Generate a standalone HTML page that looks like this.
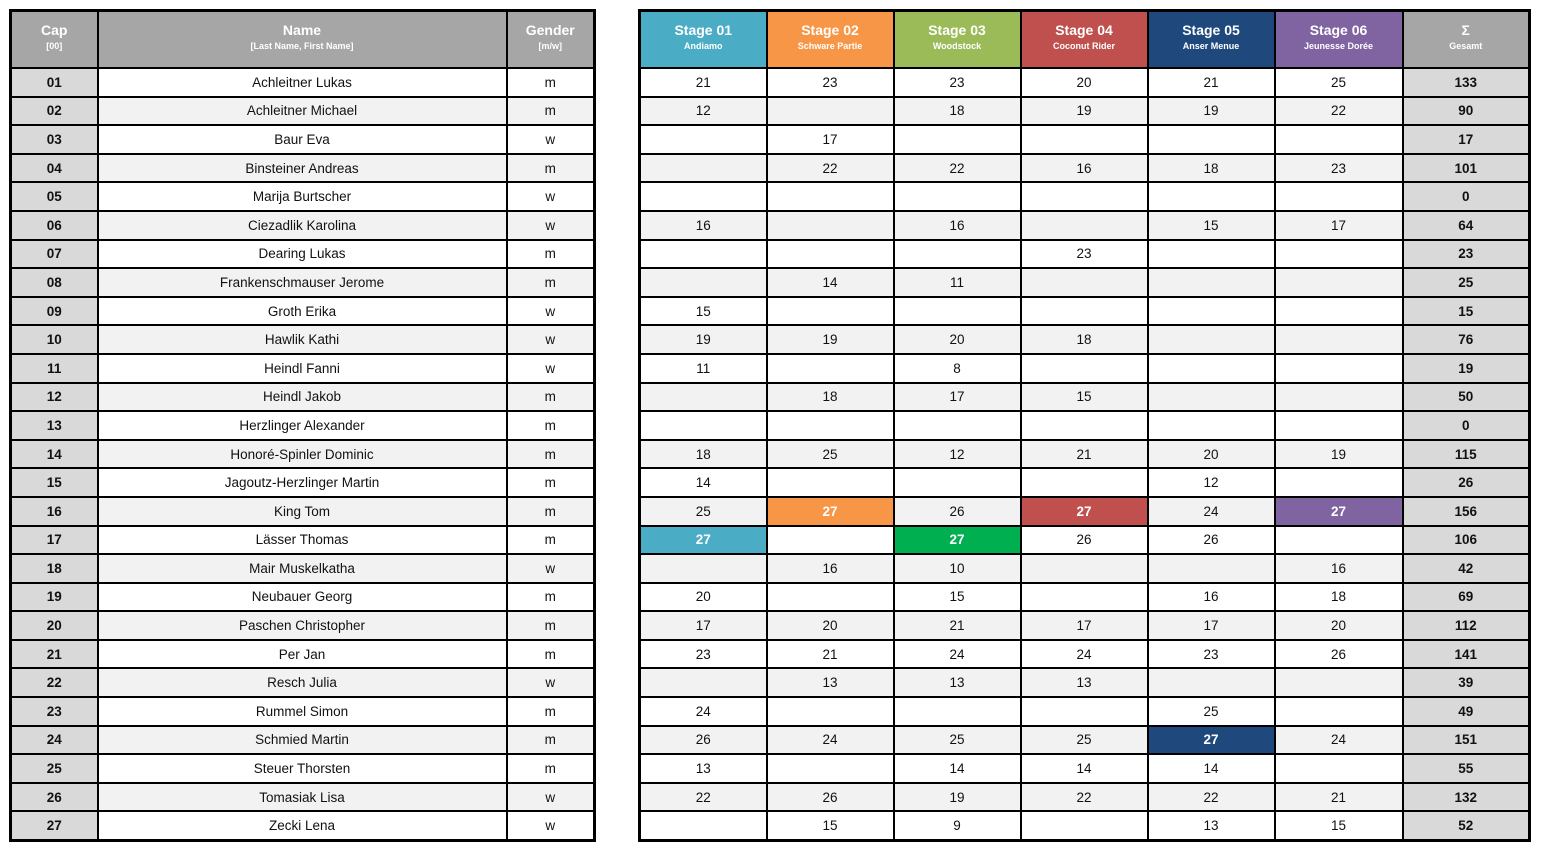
<!DOCTYPE html>
<html><head><meta charset="utf-8"><style>
body{margin:0;background:#fff;width:1541px;height:853px;overflow:hidden;font-family:"Liberation Sans",sans-serif;}
table{position:absolute;top:9px;border-collapse:collapse;border:3px solid #000;table-layout:fixed;}
td,th{border:2px solid #000;text-align:center;padding:0;font-size:13.5px;color:#111;}
th{background:#a6a6a6;color:#fff;font-weight:bold;font-size:14px;line-height:16px;height:49px;padding-bottom:6px;}
th small{display:block;font-size:9px;font-weight:bold;line-height:12px;margin-top:2px;}
td{height:26.6px;}
tbody tr:nth-child(even) td{background:#f2f2f2;}
tbody tr td.c{background:#d9d9d9 !important;font-weight:bold;}
td.o{background:#f79646 !important;color:#fff;font-weight:bold}
td.r{background:#c0504d !important;color:#fff;font-weight:bold}
td.p{background:#8064a2 !important;color:#fff;font-weight:bold}
td.b{background:#4bacc6 !important;color:#fff;font-weight:bold}
td.g{background:#00b050 !important;color:#fff;font-weight:bold}
td.n{background:#1f497d !important;color:#fff;font-weight:bold}
#L{left:9px;width:586px;}
#R{left:638px;width:893px;}
</style></head><body>
<table id="L"><colgroup><col style="width:87px"><col style="width:409px"><col style="width:88px"></colgroup>
<thead><tr><th>Cap<small>[00]</small></th><th>Name<small>[Last Name, First Name]</small></th><th>Gender<small>[m/w]</small></th></tr></thead>
<tbody>
<tr><td class="c">01</td><td>Achleitner Lukas</td><td>m</td></tr>
<tr><td class="c">02</td><td>Achleitner Michael</td><td>m</td></tr>
<tr><td class="c">03</td><td>Baur Eva</td><td>w</td></tr>
<tr><td class="c">04</td><td>Binsteiner Andreas</td><td>m</td></tr>
<tr><td class="c">05</td><td>Marija Burtscher</td><td>w</td></tr>
<tr><td class="c">06</td><td>Ciezadlik Karolina</td><td>w</td></tr>
<tr><td class="c">07</td><td>Dearing Lukas</td><td>m</td></tr>
<tr><td class="c">08</td><td>Frankenschmauser Jerome</td><td>m</td></tr>
<tr><td class="c">09</td><td>Groth Erika</td><td>w</td></tr>
<tr><td class="c">10</td><td>Hawlik Kathi</td><td>w</td></tr>
<tr><td class="c">11</td><td>Heindl Fanni</td><td>w</td></tr>
<tr><td class="c">12</td><td>Heindl Jakob</td><td>m</td></tr>
<tr><td class="c">13</td><td>Herzlinger Alexander</td><td>m</td></tr>
<tr><td class="c">14</td><td>Honoré-Spinler Dominic</td><td>m</td></tr>
<tr><td class="c">15</td><td>Jagoutz-Herzlinger Martin</td><td>m</td></tr>
<tr><td class="c">16</td><td>King Tom</td><td>m</td></tr>
<tr><td class="c">17</td><td>Lässer Thomas</td><td>m</td></tr>
<tr><td class="c">18</td><td>Mair Muskelkatha</td><td>w</td></tr>
<tr><td class="c">19</td><td>Neubauer Georg</td><td>m</td></tr>
<tr><td class="c">20</td><td>Paschen Christopher</td><td>m</td></tr>
<tr><td class="c">21</td><td>Per Jan</td><td>m</td></tr>
<tr><td class="c">22</td><td>Resch Julia</td><td>w</td></tr>
<tr><td class="c">23</td><td>Rummel Simon</td><td>m</td></tr>
<tr><td class="c">24</td><td>Schmied Martin</td><td>m</td></tr>
<tr><td class="c">25</td><td>Steuer Thorsten</td><td>m</td></tr>
<tr><td class="c">26</td><td>Tomasiak Lisa</td><td>w</td></tr>
<tr><td class="c">27</td><td>Zecki Lena</td><td>w</td></tr>
</tbody></table>
<table id="R"><colgroup><col style="width:127px"><col style="width:127px"><col style="width:127px"><col style="width:127px"><col style="width:127px"><col style="width:128px"><col style="width:127px"></colgroup>
<thead><tr><th style="background:#4bacc6">Stage 01<small>Andiamo</small></th><th style="background:#f79646">Stage 02<small>Schware Partie</small></th><th style="background:#9bbb59">Stage 03<small>Woodstock</small></th><th style="background:#c0504d">Stage 04<small>Coconut Rider</small></th><th style="background:#1f497d">Stage 05<small>Anser Menue</small></th><th style="background:#8064a2">Stage 06<small>Jeunesse Dorée</small></th><th>Σ<small>Gesamt</small></th></tr></thead>
<tbody>
<tr><td>21</td><td>23</td><td>23</td><td>20</td><td>21</td><td>25</td><td class="c">133</td></tr>
<tr><td>12</td><td></td><td>18</td><td>19</td><td>19</td><td>22</td><td class="c">90</td></tr>
<tr><td></td><td>17</td><td></td><td></td><td></td><td></td><td class="c">17</td></tr>
<tr><td></td><td>22</td><td>22</td><td>16</td><td>18</td><td>23</td><td class="c">101</td></tr>
<tr><td></td><td></td><td></td><td></td><td></td><td></td><td class="c">0</td></tr>
<tr><td>16</td><td></td><td>16</td><td></td><td>15</td><td>17</td><td class="c">64</td></tr>
<tr><td></td><td></td><td></td><td>23</td><td></td><td></td><td class="c">23</td></tr>
<tr><td></td><td>14</td><td>11</td><td></td><td></td><td></td><td class="c">25</td></tr>
<tr><td>15</td><td></td><td></td><td></td><td></td><td></td><td class="c">15</td></tr>
<tr><td>19</td><td>19</td><td>20</td><td>18</td><td></td><td></td><td class="c">76</td></tr>
<tr><td>11</td><td></td><td>8</td><td></td><td></td><td></td><td class="c">19</td></tr>
<tr><td></td><td>18</td><td>17</td><td>15</td><td></td><td></td><td class="c">50</td></tr>
<tr><td></td><td></td><td></td><td></td><td></td><td></td><td class="c">0</td></tr>
<tr><td>18</td><td>25</td><td>12</td><td>21</td><td>20</td><td>19</td><td class="c">115</td></tr>
<tr><td>14</td><td></td><td></td><td></td><td>12</td><td></td><td class="c">26</td></tr>
<tr><td>25</td><td class="o">27</td><td>26</td><td class="r">27</td><td>24</td><td class="p">27</td><td class="c">156</td></tr>
<tr><td class="b">27</td><td></td><td class="g">27</td><td>26</td><td>26</td><td></td><td class="c">106</td></tr>
<tr><td></td><td>16</td><td>10</td><td></td><td></td><td>16</td><td class="c">42</td></tr>
<tr><td>20</td><td></td><td>15</td><td></td><td>16</td><td>18</td><td class="c">69</td></tr>
<tr><td>17</td><td>20</td><td>21</td><td>17</td><td>17</td><td>20</td><td class="c">112</td></tr>
<tr><td>23</td><td>21</td><td>24</td><td>24</td><td>23</td><td>26</td><td class="c">141</td></tr>
<tr><td></td><td>13</td><td>13</td><td>13</td><td></td><td></td><td class="c">39</td></tr>
<tr><td>24</td><td></td><td></td><td></td><td>25</td><td></td><td class="c">49</td></tr>
<tr><td>26</td><td>24</td><td>25</td><td>25</td><td class="n">27</td><td>24</td><td class="c">151</td></tr>
<tr><td>13</td><td></td><td>14</td><td>14</td><td>14</td><td></td><td class="c">55</td></tr>
<tr><td>22</td><td>26</td><td>19</td><td>22</td><td>22</td><td>21</td><td class="c">132</td></tr>
<tr><td></td><td>15</td><td>9</td><td></td><td>13</td><td>15</td><td class="c">52</td></tr>
</tbody></table>
</body></html>
